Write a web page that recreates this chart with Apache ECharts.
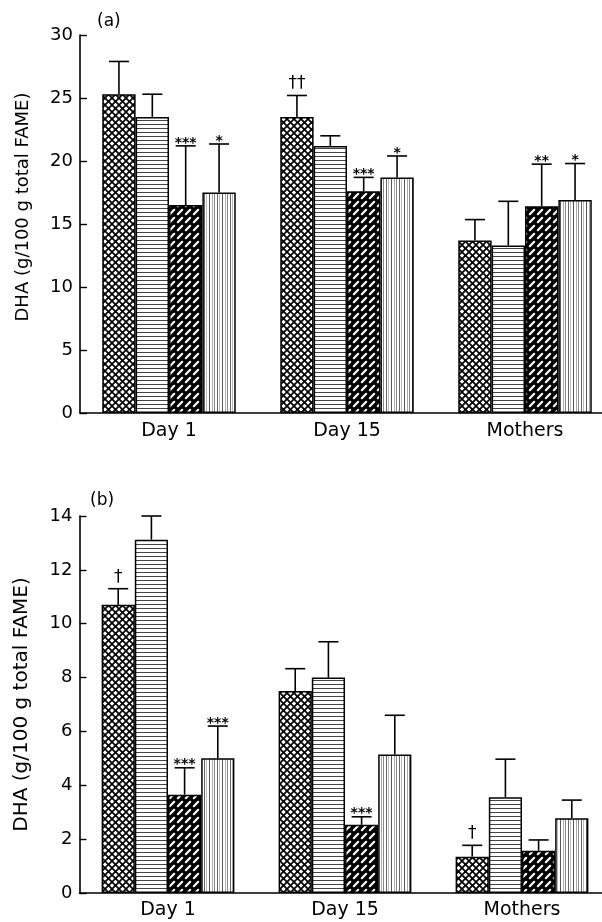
<!DOCTYPE html>
<html>
<head>
<meta charset="utf-8">
<script src="https://cdn.jsdelivr.net/npm/echarts@6/dist/echarts.min.js"></script>
<style>html,body{margin:0;padding:0;background:#fff}#c{width:602px;height:922px}</style>
</head>
<body>
<div id="c"></div>
<script>
// ---------- data ----------
const categories = ['Day 1', 'Day 15', 'Mothers'];
const groupNames = ['Group 1', 'Group 2', 'Group 3', 'Group 4'];

// Panel (a)
const aTicks = {min: 0, max: 30, interval: 5};
const aMean1 = [25.3, 23.5, 13.7];
const aMean2 = [23.5, 21.2, 13.3];
const aMean3 = [16.5, 17.6, 16.4];
const aMean4 = [17.5, 18.7, 16.9];
const aSD1 = [2.6, 1.7, 1.65];
const aSD2 = [1.8, 0.8, 3.5];
const aSD3 = [4.7, 1.1, 3.35];
const aSD4 = [3.85, 1.7, 2.9];
const aMark1 = ['', '\u2020\u2020', ''];
const aMark2 = ['', '', ''];
const aMark3 = ['***', '***', '**'];
const aMark4 = ['*', '*', '*'];

// Panel (b)
const bTicks = {min: 0, max: 14, interval: 2};
const bMean1 = [10.7, 7.5, 1.35];
const bMean2 = [13.12, 8.0, 3.56];
const bMean3 = [3.65, 2.53, 1.57];
const bMean4 = [5.0, 5.14, 2.78];
const bSD1 = [0.6, 0.83, 0.42];
const bSD2 = [0.88, 1.33, 1.41];
const bSD3 = [1.0, 0.3, 0.4];
const bSD4 = [1.2, 1.46, 0.67];
const bMark1 = ['\u2020', '', '\u2020'];
const bMark2 = ['', '', ''];
const bMark3 = ['***', '***', ''];
const bMark4 = ['***', '', ''];

const yName = 'DHA (g/100 g total FAME)';

// ---------- patterns ----------
function tile(w, h, draw) {
  const c = document.createElement('canvas');
  c.width = w; c.height = h;
  const g = c.getContext('2d');
  g.fillStyle = '#fff'; g.fillRect(0, 0, w, h);
  draw(g, w, h);
  return {image: c, repeat: 'repeat'};
}
const pat1 = tile(7, 7, (g, w, h) => {
  g.strokeStyle = '#000'; g.lineWidth = 1.7;
  for (let o = -7; o <= 7; o += 7) {
    g.beginPath(); g.moveTo(o, 0); g.lineTo(o + w, h); g.stroke();
    g.beginPath(); g.moveTo(o + w, 0); g.lineTo(o, h); g.stroke();
  }
});
const pat2 = tile(4, 4, (g, w, h) => {
  g.fillStyle = '#444'; g.fillRect(0, 0, w, 1);
});
const pat3 = tile(8, 8, (g, w, h) => {
  g.fillStyle = '#000'; g.fillRect(0, 0, w, h);
  g.strokeStyle = '#fff'; g.lineWidth = 2.2; g.lineCap = 'round';
  g.beginPath(); g.moveTo(1.8, 6.2); g.lineTo(6.2, 1.8); g.stroke();
});
const pat4 = tile(13, 4, (g, w, h) => {
  const xs = [[1, '#555'], [4, '#aaa'], [6, '#888'], [9, '#666'], [11, '#bbb']];
  xs.forEach(([x, col]) => { g.fillStyle = col; g.fillRect(x, 0, 1, h); });
});
const patterns = [pat1, pat2, pat3, pat4];

const FONT = 'DejaVu Sans';
const CAT_GAP = 0.25;

function barSeries(gi, means, idx) {
  return {
    type: 'bar', name: groupNames[idx], xAxisIndex: gi, yAxisIndex: gi,
    data: means, barGap: '0%', barCategoryGap: (CAT_GAP * 100) + '%',
    itemStyle: {color: patterns[idx], borderColor: '#000', borderWidth: 1.5},
    emphasis: {disabled: true}, z: 2
  };
}
function errSeries(gi, means, sds, marks, idx) {
  return {
    type: 'custom', xAxisIndex: gi, yAxisIndex: gi, z: 5, silent: true,
    data: means.map((m, k) => [k, m, m + sds[k]]),
    renderItem: function (params, api) {
      const k = api.value(0), mean = api.value(1), top = api.value(2);
      const band = api.size([1, 0])[0];
      const groupW = band * (1 - CAT_GAP);
      const bw = groupW / 4;
      const cx = api.coord([k, 0])[0] - groupW / 2 + bw * (idx + 0.5);
      const y0 = api.coord([k, mean])[1];
      const y1 = api.coord([k, top])[1];
      const ls = {stroke: '#000', lineWidth: 1.6};
      const children = [
        {type: 'line', shape: {x1: cx, y1: y0, x2: cx, y2: y1}, style: ls},
        {type: 'line', shape: {x1: cx - 10, y1: y1, x2: cx + 10, y2: y1}, style: ls}
      ];
      const mk = marks[params.dataIndex];
      if (mk) {
        const isDagger = mk.indexOf('\u2020') >= 0;
        children.push({
          type: 'text',
          style: {
            text: mk, x: cx, y: isDagger ? y1 - 3 : y1 + 4,
            align: 'center', verticalAlign: 'bottom',
            font: isDagger ? '17px ' + FONT : 'bold 14px ' + FONT,
            fill: '#000'
          }
        });
      }
      return {type: 'group', children: children};
    }
  };
}

function xAxis(gi, margin) {
  return {
    type: 'category', gridIndex: gi, data: categories,
    axisLine: {lineStyle: {color: '#000', width: 1.6}},
    axisTick: {show: false},
    axisLabel: {color: '#000', fontFamily: FONT, fontSize: 19, margin: margin}
  };
}
function yAxis(gi, ticks, nameSize, pad) {
  return {
    type: 'value', gridIndex: gi, min: ticks.min, max: ticks.max, interval: ticks.interval,
    name: yName, nameLocation: 'middle', nameGap: 48,
    nameTextStyle: {color: '#000', fontFamily: FONT, fontSize: nameSize, padding: pad},
    axisLine: {show: true, lineStyle: {color: '#000', width: 1.6}},
    axisTick: {show: true, inside: true, length: 7, lineStyle: {color: '#000', width: 1.4}},
    axisLabel: {color: '#000', fontFamily: FONT, fontSize: 18, margin: 7},
    splitLine: {show: false}
  };
}

const option = {
  backgroundColor: '#fff',
  animation: false,
  grid: [
    {left: 80, top: 35, width: 534, height: 378, outerBoundsMode: 'none', containLabel: false},
    {left: 79.5, top: 516, width: 531, height: 377, outerBoundsMode: 'none', containLabel: false}
  ],
  xAxis: [xAxis(0, 9), xAxis(1, 8)],
  yAxis: [yAxis(0, aTicks, 18, [0, 0, 0, 34]), yAxis(1, bTicks, 20, 0)],
  graphic: [
    {type: 'text', left: 97, top: 13, style: {text: '(a)', font: '17px ' + FONT, fill: '#000'}},
    {type: 'text', left: 90, top: 492, style: {text: '(b)', font: '17px ' + FONT, fill: '#000'}}
  ],
  series: [
    barSeries(0, aMean1, 0), barSeries(0, aMean2, 1), barSeries(0, aMean3, 2), barSeries(0, aMean4, 3),
    errSeries(0, aMean1, aSD1, aMark1, 0), errSeries(0, aMean2, aSD2, aMark2, 1),
    errSeries(0, aMean3, aSD3, aMark3, 2), errSeries(0, aMean4, aSD4, aMark4, 3),
    barSeries(1, bMean1, 0), barSeries(1, bMean2, 1), barSeries(1, bMean3, 2), barSeries(1, bMean4, 3),
    errSeries(1, bMean1, bSD1, bMark1, 0), errSeries(1, bMean2, bSD2, bMark2, 1),
    errSeries(1, bMean3, bSD3, bMark3, 2), errSeries(1, bMean4, bSD4, bMark4, 3)
  ]
};
const chart = echarts.init(document.getElementById('c'), null, {renderer: 'canvas'});
chart.setOption(option);
</script>
</body>
</html>
